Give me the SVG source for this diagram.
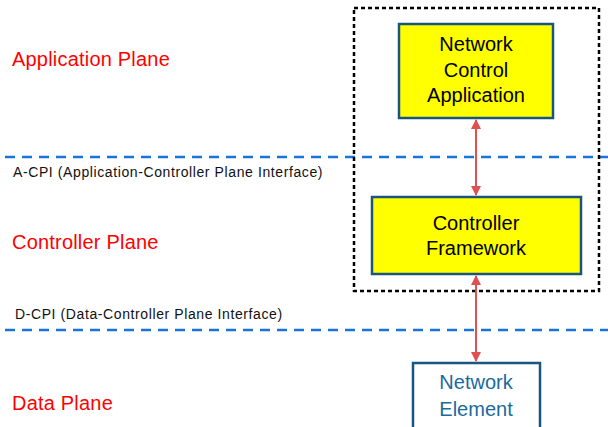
<svg xmlns="http://www.w3.org/2000/svg" width="608" height="427" viewBox="0 0 608 427">
<defs>
<style>
.plane{font-family:"Liberation Sans",Arial,sans-serif;font-size:20px;fill:#ff0000;letter-spacing:0.2px}
.iface{font-family:"Liberation Sans",Arial,sans-serif;font-size:14px;fill:#111;letter-spacing:0.6px}
.ylw{fill:#ffff00;stroke:#1a5580;stroke-width:2.5}
.wht{fill:#ffffff;stroke:#1a5580;stroke-width:2.5}
.t{font-family:"Liberation Sans",Arial,sans-serif;font-size:20px;fill:#000;text-anchor:middle}
.tb{font-family:"Liberation Sans",Arial,sans-serif;font-size:20px;fill:#1a6aa0;text-anchor:middle}
.sep{stroke:#1a73d9;stroke-width:2.5;stroke-dasharray:10 7;fill:none}
.conn{stroke:#e05050;stroke-width:2;fill:none}
</style>
<marker id="ah" viewBox="0 0 10 10" refX="9" refY="5" markerWidth="5" markerHeight="5" orient="auto-start-reverse">
<path d="M0,0 L10,5 L0,10 z" fill="#e05050"/>
</marker>
</defs>
<rect width="608" height="427" fill="#ffffff"/>
<g id="separators">
<line class="sep" x1="5" y1="157" x2="608" y2="157"/>
<line class="sep" x1="5" y1="330" x2="608" y2="330"/>
</g>
<rect id="controller-boundary" x="354" y="8" width="245" height="283" fill="none" stroke="#000" stroke-width="2.5" stroke-dasharray="4 3"/>
<text class="plane" x="12" y="66">Application Plane</text>
<text class="plane" x="12" y="249">Controller Plane</text>
<text class="plane" x="12" y="410">Data Plane</text>
<text class="iface" x="13" y="177">A-CPI (Application-Controller Plane Interface)</text>
<text class="iface" x="15" y="319">D-CPI (Data-Controller Plane Interface)</text>
<g id="nca">
<rect class="ylw" x="399" y="24" width="154" height="94"/>
<text class="t" x="476" y="51">Network</text>
<text class="t" x="476" y="77">Control</text>
<text class="t" x="476" y="102">Application</text>
</g>
<g id="cf">
<rect class="ylw" x="372" y="197" width="209" height="77"/>
<text class="t" x="476" y="230">Controller</text>
<text class="t" x="476" y="255">Framework</text>
</g>
<g id="ne">
<rect class="wht" x="413" y="363" width="127" height="70"/>
<text class="tb" x="476" y="389">Network</text>
<text class="tb" x="476" y="416">Element</text>
</g>
<g id="connectors">
<line class="conn" x1="476" y1="120" x2="476" y2="195" marker-start="url(#ah)" marker-end="url(#ah)"/>
<line class="conn" x1="476" y1="276" x2="476" y2="361" marker-start="url(#ah)" marker-end="url(#ah)"/>
</g>
</svg>
